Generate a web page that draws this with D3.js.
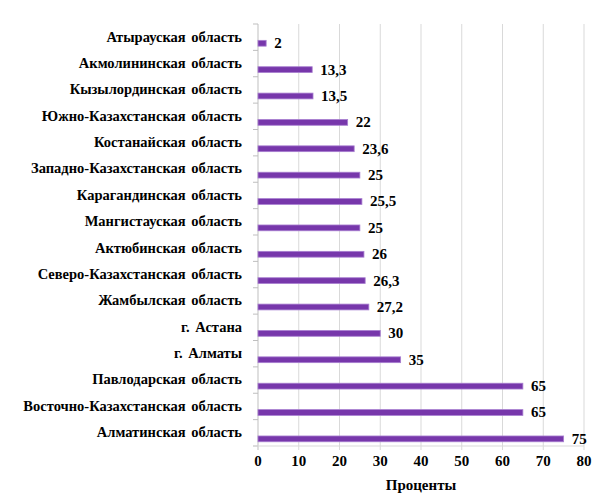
<!DOCTYPE html>
<html>
<head>
<meta charset="utf-8">
<script src="https://cdn.jsdelivr.net/npm/d3@7"></script>
<style>
  html, body { margin: 0; padding: 0; background: #fff; }
</style>
</head>
<body>
<svg id="chart" width="600" height="494"></svg>
<script>
// Regions, top to bottom
const regions = [
  "Атырауская область",
  "Акмолининская область",
  "Кызылординская область",
  "Южно-Казахстанская область",
  "Костанайская область",
  "Западно-Казахстанская область",
  "Карагандинская область",
  "Мангистауская область",
  "Актюбинская область",
  "Северо-Казахстанская область",
  "Жамбылская область",
  "г. Астана",
  "г. Алматы",
  "Павлодарская область",
  "Восточно-Казахстанская область",
  "Алматинская область"
];
// Share, percent
const percents = [2, 13.3, 13.5, 22, 23.6, 25, 25.5, 25, 26, 26.3, 27.2, 30, 35, 65, 65, 75];
const xTicks = [0, 10, 20, 30, 40, 50, 60, 70, 80];
const xTitle = "Проценты";

const FONT = "'Liberation Serif', Tinos, 'Times New Roman', 'Nimbus Roman', FreeSerif, 'Noto Serif', 'DejaVu Serif', serif";

const svg = d3.select("#chart")
  .attr("font-family", FONT)
  .attr("font-weight", 700);
const m = { left: 258, right: 16, top: 24, bottom: 48 };
const W = 600, H = 494;

const x = d3.scaleLinear().domain([0, 80]).range([m.left, W - m.right]);
const y = d3.scaleBand().domain(regions).range([m.top, H - m.bottom]).paddingInner(0).paddingOuter(0);
const bw = y.bandwidth();

// vertical gridlines
svg.append("g").selectAll("line").data(xTicks.slice(1)).join("line")
  .attr("x1", d => x(d)).attr("x2", d => x(d))
  .attr("y1", m.top).attr("y2", H - m.bottom + 4)
  .attr("stroke", "#d9d9d9").attr("stroke-width", 1);

// value axis tick at zero
svg.append("g").selectAll("line").data(xTicks.slice(0,1)).join("line")
  .attr("x1", d => x(d)).attr("x2", d => x(d))
  .attr("y1", H - m.bottom).attr("y2", H - m.bottom + 4)
  .attr("stroke", "#bfbfbf");

// category axis line and ticks
const yAxisG = svg.append("g");
yAxisG.append("line")
  .attr("x1", m.left).attr("x2", m.left)
  .attr("y1", m.top).attr("y2", H - m.bottom)
  .attr("stroke", "#bfbfbf");
yAxisG.selectAll("line.tk").data(d3.range(regions.length + 1)).join("line")
  .attr("class", "tk")
  .attr("x1", m.left - 5).attr("x2", m.left)
  .attr("y1", i => m.top + i * bw).attr("y2", i => m.top + i * bw)
  .attr("stroke", "#bfbfbf");

// baseline
svg.append("line")
  .attr("x1", m.left - 5).attr("x2", W - m.right)
  .attr("y1", H - m.bottom).attr("y2", H - m.bottom)
  .attr("stroke", "#d9d9d9");

// bars
svg.append("g").selectAll("rect").data(percents).join("rect")
  .attr("x", x(0))
  .attr("y", (d, i) => y(regions[i]) + bw * 0.62)
  .attr("width", d => x(d) - x(0))
  .attr("height", bw * 0.22)
  .attr("fill", "#7737ab")
  .attr("stroke", "#a87fd0")
  .attr("stroke-width", 0.8);

// value labels
const fmt = v => String(v).replace(".", ",");
svg.append("g").selectAll("text").data(percents).join("text")
  .attr("x", d => x(d) + 8)
  .attr("y", (d, i) => y(regions[i]) + bw * 0.73 + 1.5)
  .attr("dominant-baseline", "middle")
  .attr("font-size", 15)
  .text(fmt);

// category labels
svg.append("g").selectAll("text").data(regions).join("text")
  .attr("x", m.left - 16)
  .attr("y", d => y(d) + bw / 2 + 1)
  .attr("text-anchor", "end")
  .attr("dominant-baseline", "middle")
  .attr("font-size", 14.5)
  .attr("word-spacing", 2)
  .text(d => d);

// tick labels
svg.append("g").selectAll("text").data(xTicks).join("text")
  .attr("x", d => x(d))
  .attr("y", H - m.bottom + 17)
  .attr("text-anchor", "middle")
  .attr("dominant-baseline", "middle")
  .attr("font-size", 15)
  .text(d => d);

// axis title
svg.append("text")
  .attr("x", (x(0) + x(80)) / 2)
  .attr("y", H - 7)
  .attr("text-anchor", "middle")
  .attr("dominant-baseline", "middle")
  .attr("font-size", 15)
  .text(xTitle);
</script>
</body>
</html>
